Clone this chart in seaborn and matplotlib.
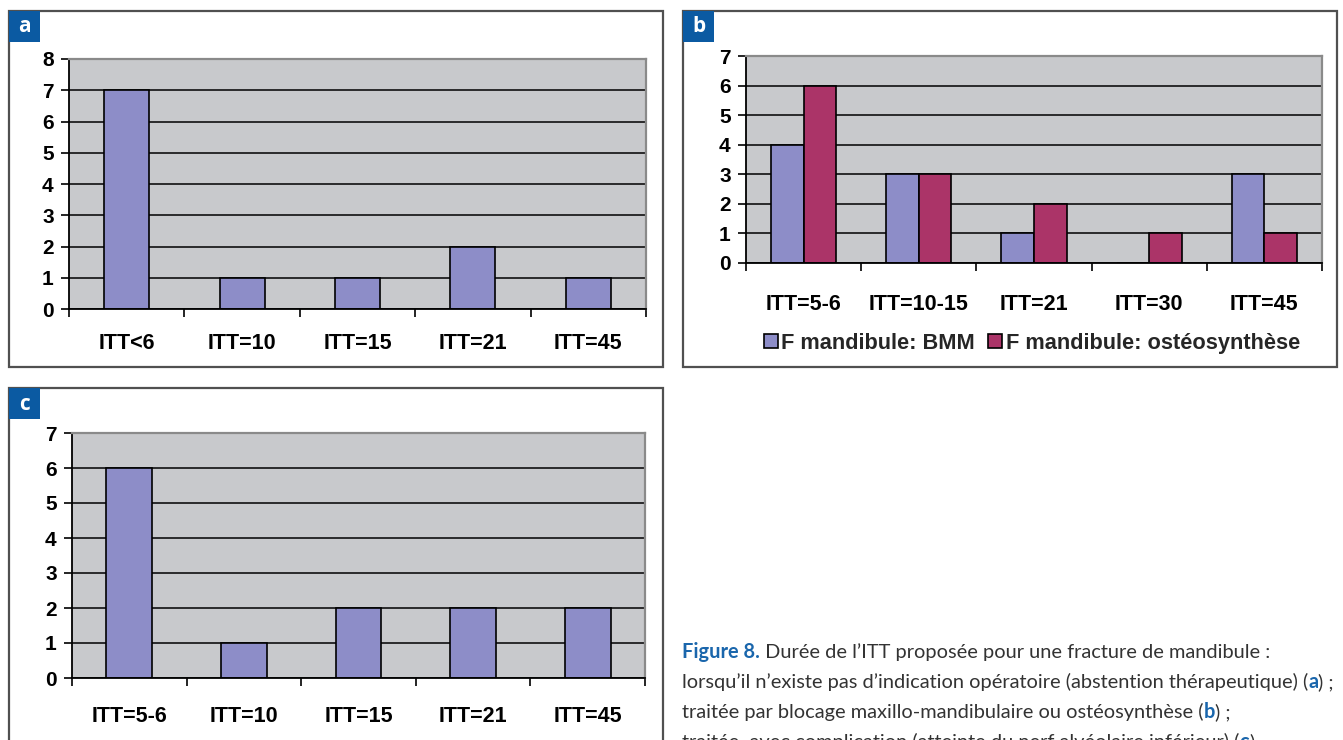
import matplotlib
matplotlib.use("Agg")
import matplotlib.pyplot as plt
from matplotlib.patches import Rectangle
import numpy as np
import pandas as pd
import seaborn as sns

# ---- data -------------------------------------------------------------
cats_a = ["ITT<6", "ITT=10", "ITT=15", "ITT=21", "ITT=45"]
vals_a = [7, 1, 1, 2, 1]

cats_b = ["ITT=5-6", "ITT=10-15", "ITT=21", "ITT=30", "ITT=45"]
bmm_b = [4, 3, 1, 0, 3]
osteo_b = [6, 3, 2, 1, 1]
series_b = ["F mandibule: BMM", "F mandibule: ostéosynthèse"]

cats_c = ["ITT=5-6", "ITT=10", "ITT=15", "ITT=21", "ITT=45"]
vals_c = [6, 1, 2, 2, 2]

ymax_a, ymax_b, ymax_c = 8, 7, 7

caption_lines = [
    [("Figure 8.", True), (" Durée de l’ITT proposée pour une fracture de mandibule :", False)],
    [("lorsqu’il n’existe pas d’indication opératoire (abstention thérapeutique) (", False),
     ("a", True), (") ;", False)],
    [("traitée par blocage maxillo-mandibulaire ou ostéosynthèse (", False), ("b", True), (") ;", False)],
    [("traitée  avec complication (atteinte du nerf alvéolaire inférieur) (", False), ("c", True), (").", False)],
]

# ---- style ------------------------------------------------------------
BAR_BLUE = "#8D8DC8"
BAR_RED = "#AB3468"
PLOT_BG = "#C8C9CC"
TAG_BLUE = "#0B5AA2"
CAP_BLUE = "#1A66AC"
CAP_GREY = "#333333"
FRAME = "#505050"

W, H = 1343, 740
sns.set_theme(style="ticks")
plt.rcParams["font.family"] = ["Liberation Sans", "DejaVu Sans"]

fig = plt.figure(figsize=(W / 100, H / 100), dpi=100)
fig.patch.set_facecolor("white")


def px_axes(l, t, r, b):
    return fig.add_axes([l / W, 1 - b / H, (r - l) / W, (b - t) / H])


def frame(l, t, r, b, tag):
    fig.add_artist(Rectangle((l / W, 1 - b / H), (r - l) / W, (b - t) / H,
                             transform=fig.transFigure, fill=False,
                             ec=FRAME, lw=1.6, zorder=5))
    fig.add_artist(Rectangle((l / W, 1 - (t + 31) / H), 31 / W, 31 / H,
                             transform=fig.transFigure, fc=TAG_BLUE,
                             ec="none", zorder=6))
    fig.text((l + 15.5) / W, 1 - (t + 16) / H, tag, color="white",
             fontsize=15, fontweight="bold", ha="center", va="center",
             family=["Open Sans", "DejaVu Sans"], zorder=7)


def style(ax, ymax, xpad=13):
    ax.set_facecolor(PLOT_BG)
    ax.set_ylim(0, ymax)
    ax.set_xlim(-0.5, 4.5)
    ax.set_yticks(range(ymax + 1))
    ax.yaxis.grid(True, color="black", lw=1.1)
    ax.xaxis.grid(False)
    ax.set_axisbelow(True)
    for s in ("left", "bottom"):
        ax.spines[s].set_color("black")
        ax.spines[s].set_linewidth(1.3)
    for s in ("top", "right"):
        ax.spines[s].set_visible(True)
        ax.spines[s].set_color("#8a8a8a")
        ax.spines[s].set_linewidth(1.6)
    ax.tick_params(axis="y", left=True, direction="out", length=6, width=1.2,
                   color="black", labelsize=15, pad=5, labelcolor="black")
    ax.set_xticks(np.arange(-0.5, 5, 1), minor=True)
    ax.tick_params(axis="x", which="minor", bottom=True, direction="out",
                   length=6, width=1.2, color="black")
    ax.tick_params(axis="x", which="major", length=0, labelsize=15.5,
                   pad=xpad, labelcolor="black")
    for lbl in ax.get_xticklabels() + ax.get_yticklabels():
        lbl.set_fontweight("bold")
    ax.set_xlabel("")
    ax.set_ylabel("")


# ---- panel a ----------------------------------------------------------
frame(9, 11, 663, 367, "a")
ax_a = px_axes(69, 59, 646, 309)
sns.barplot(x=cats_a, y=vals_a, ax=ax_a, color=BAR_BLUE, saturation=1,
            width=0.39, edgecolor="black", linewidth=1.2)
style(ax_a, ymax_a, xpad=17)

# ---- panel b ----------------------------------------------------------
frame(683, 11, 1337, 367, "b")
ax_b = px_axes(746, 56, 1322, 263)
df_b = pd.DataFrame({
    "cat": cats_b * 2,
    "val": bmm_b + osteo_b,
    "serie": [series_b[0]] * len(cats_b) + [series_b[1]] * len(cats_b),
})
sns.barplot(data=df_b, x="cat", y="val", hue="serie", ax=ax_b,
            palette=[BAR_BLUE, BAR_RED], saturation=1, width=0.565,
            edgecolor="black", linewidth=1.2)
style(ax_b, ymax_b, xpad=22)
handles, labels = ax_b.get_legend_handles_labels()
ax_b.legend(handles, labels, loc="center", ncol=2, frameon=False,
            bbox_to_anchor=(1032 / W, 1 - 343 / H), bbox_transform=fig.transFigure,
            prop={"weight": "bold", "size": 15.7}, handlelength=0.65,
            handleheight=0.65, handletextpad=0.15, columnspacing=0.6,
            borderpad=0, borderaxespad=0)

# ---- panel c ----------------------------------------------------------
frame(9, 388, 663, 760, "c")
ax_c = px_axes(72, 433, 645, 678)
sns.barplot(x=cats_c, y=vals_c, ax=ax_c, color=BAR_BLUE, saturation=1,
            width=0.4, edgecolor="black", linewidth=1.2)
style(ax_c, ymax_c, xpad=20)

# ---- caption ----------------------------------------------------------
CAP_FONT = ["Lato", "DejaVu Sans"]
renderer = fig.canvas.get_renderer()


def line_width(parts, size):
    total = 0
    for txt, bold in parts:
        t = fig.text(0, 0, txt, fontsize=size, family=CAP_FONT,
                     weight="bold" if bold else "normal")
        total += t.get_window_extent(renderer).width
        t.remove()
    return total


cap_size = 13 * 652 / line_width(caption_lines[1], 13)


def rich_line(x_px, base_px, parts, size):
    x = x_px
    for txt, bold in parts:
        t = fig.text(x / W, 1 - base_px / H, txt, fontsize=size, family=CAP_FONT,
                     weight="bold" if bold else "normal",
                     color=CAP_BLUE if bold else CAP_GREY,
                     ha="left", va="baseline")
        x += t.get_window_extent(renderer).width


for i, parts in enumerate(caption_lines):
    rich_line(682, 658 + 30 * i, parts, cap_size)

fig.savefig("out.png", dpi=100, facecolor="white")
